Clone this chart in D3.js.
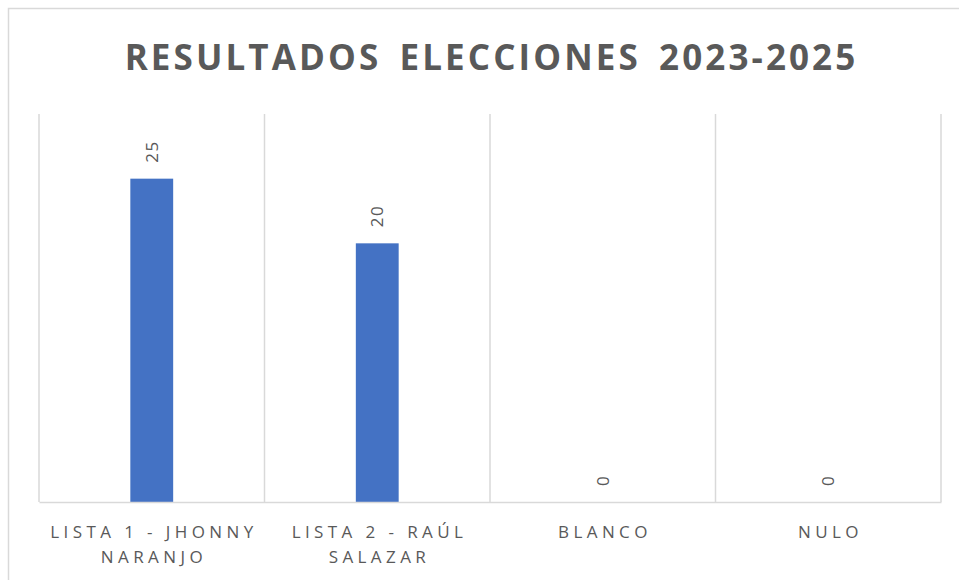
<!DOCTYPE html>
<html>
<head>
<meta charset="utf-8">
<script src="https://cdn.jsdelivr.net/npm/d3@7"></script>
<style>
  body { margin: 0; background: #fff; }
  svg { display: block; }
</style>
</head>
<body>
<div id="chart"></div>
<script>
// data
var title = "RESULTADOS ELECCIONES 2023-2025";
var categories = ["LISTA 1 - JHONNY\nNARANJO", "LISTA 2 - RAÚL\nSALAZAR", "BLANCO", "NULO"];
var votes = [25, 20, 0, 0];
var yMax = 30;

var svg = d3.select("#chart").append("svg")
    .attr("width", 959)
    .attr("height", 580);

// outer chart border (runs off right/bottom of the picture)
svg.append("rect")
    .attr("x", 8.5)
    .attr("y", 8.5)
    .attr("width", 1000)
    .attr("height", 1000)
    .attr("fill", "#fff")
    .attr("stroke", "#d9d9d9")
    .attr("stroke-width", 1.5);

var x = d3.scaleBand()
    .domain(categories)
    .range([39, 941])
    .padding(0);

var barw = x.bandwidth() * 0.19;

var y = d3.scaleLinear()
    .domain([0, yMax])
    .range([502, 114]);

// vertical separators between categories
var edges = categories.map(function(d) { return x(d); }).concat([x.range()[1]]);
svg.selectAll(".sep")
    .data(edges)
    .enter().append("line")
    .attr("class", "sep")
    .attr("x1", function(d) { return d; })
    .attr("x2", function(d) { return d; })
    .attr("y1", y(yMax))
    .attr("y2", y(0))
    .attr("stroke", "#d9d9d9")
    .attr("stroke-width", 1.5);

svg.append("text")
    .attr("x", (x.range()[0] + x.range()[1]) / 2 + 1.5)
    .attr("y", 70)
    .attr("text-anchor", "middle")
    .attr("font-family", "'Open Sans', sans-serif")
    .attr("font-weight", "bold")
    .attr("font-size", 35)
    .attr("letter-spacing", 3.1)
    .attr("word-spacing", 6)
    .attr("fill", "#595959")
    .text(title);

svg.selectAll(".bar")
    .data(votes)
    .enter().append("rect")
    .attr("class", "bar")
    .attr("x", function(d, i) { return x(categories[i]) + x.bandwidth() / 2 - barw / 2; })
    .attr("y", function(d) { return y(d); })
    .attr("width", barw)
    .attr("height", function(d) { return y(0) - y(d); })
    .attr("fill", "#4472c4");

// rotated value labels
svg.selectAll(".val")
    .data(votes)
    .enter().append("text")
    .attr("class", "val")
    .attr("transform", function(d, i) {
        return "translate(" + (x(categories[i]) + x.bandwidth() / 2) + "," + (y(d) - 16) + ") rotate(-90)";
    })
    .attr("dy", "0.35em")
    .attr("font-family", "'Open Sans', sans-serif")
    .attr("font-size", 17)
    .attr("letter-spacing", 1.5)
    .attr("fill", "#595959")
    .text(function(d) { return d; });

// baseline axis
var xaxis = svg.append("g")
    .attr("class", "axis axis--x")
    .attr("transform", "translate(0," + y(0) + ")")
    .call(d3.axisBottom(x).tickSize(0).tickFormat(""));

xaxis.select(".domain")
    .attr("stroke", "#d9d9d9")
    .attr("stroke-width", 1.5);

xaxis.selectAll(".tick").each(function(d) {
    var t = d3.select(this).append("text")
        .attr("text-anchor", "middle")
        .attr("font-family", "'Open Sans', sans-serif")
        .attr("font-size", 17)
        .attr("letter-spacing", 4.4)
        .attr("fill", "#595959")
        .attr("y", 36);
    d.split("\n").forEach(function(line, k) {
        t.append("tspan")
            .attr("x", 2.2)
            .attr("dy", k === 0 ? 0 : 25)
            .text(line);
    });
});
</script>
</body>
</html>
